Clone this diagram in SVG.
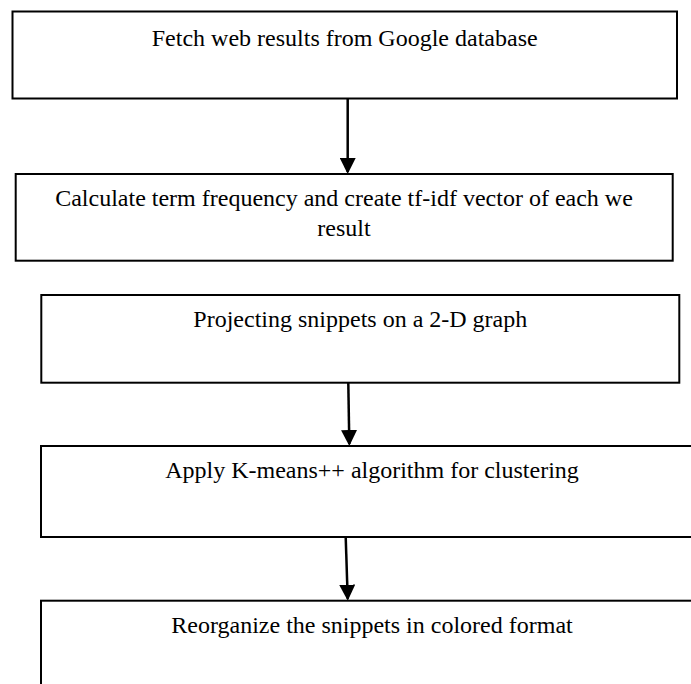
<svg xmlns="http://www.w3.org/2000/svg" width="691" height="684" viewBox="0 0 691 684">
  <style>
    .box { fill: #ffffff; stroke: #000000; stroke-width: 2; }
    .lbl { font-family: "Liberation Serif", "Times New Roman", serif; font-size: 24px; fill: #000000; text-anchor: middle; }
    .conn { stroke: #000000; stroke-width: 2.5; fill: none; marker-end: url(#arrow); }
  </style>
  <defs>
    <marker id="arrow" markerUnits="userSpaceOnUse" markerWidth="16" markerHeight="16" refX="14" refY="8" orient="auto">
      <path d="M0,0 L16,8 L0,16 Z" fill="#000000"/>
    </marker>
  </defs>
  <rect width="691" height="684" fill="#ffffff"/>

  <g id="node-fetch">
    <rect class="box" x="12.5" y="11.5" width="664.5" height="87"/>
    <text class="lbl" x="344.7" y="45.7">Fetch web results from Google database</text>
  </g>

  <g id="node-tfidf">
    <rect class="box" x="15.7" y="174" width="657" height="86.7"/>
    <text class="lbl" x="344" y="206">Calculate term frequency and create tf-idf vector of each we</text>
    <text class="lbl" x="344" y="236">result</text>
  </g>

  <g id="node-project">
    <rect class="box" x="41.3" y="295" width="638" height="87.7"/>
    <text class="lbl" x="360.3" y="327">Projecting snippets on a 2-D graph</text>
  </g>

  <g id="node-kmeans">
    <rect class="box" x="41" y="446" width="662" height="91"/>
    <text class="lbl" x="372" y="478.3">Apply K-means++ algorithm for clustering</text>
  </g>

  <g id="node-reorganize">
    <rect class="box" x="41" y="600.7" width="662" height="100"/>
    <text class="lbl" x="372" y="633.3">Reorganize the snippets in colored format</text>
  </g>

  <g id="connectors">
    <line class="conn" x1="347.7" y1="98.5" x2="347.7" y2="172"/>
    <line class="conn" x1="348.3" y1="382.7" x2="349.3" y2="444"/>
    <line class="conn" x1="345.7" y1="537" x2="347.7" y2="598.7"/>
  </g>
</svg>
